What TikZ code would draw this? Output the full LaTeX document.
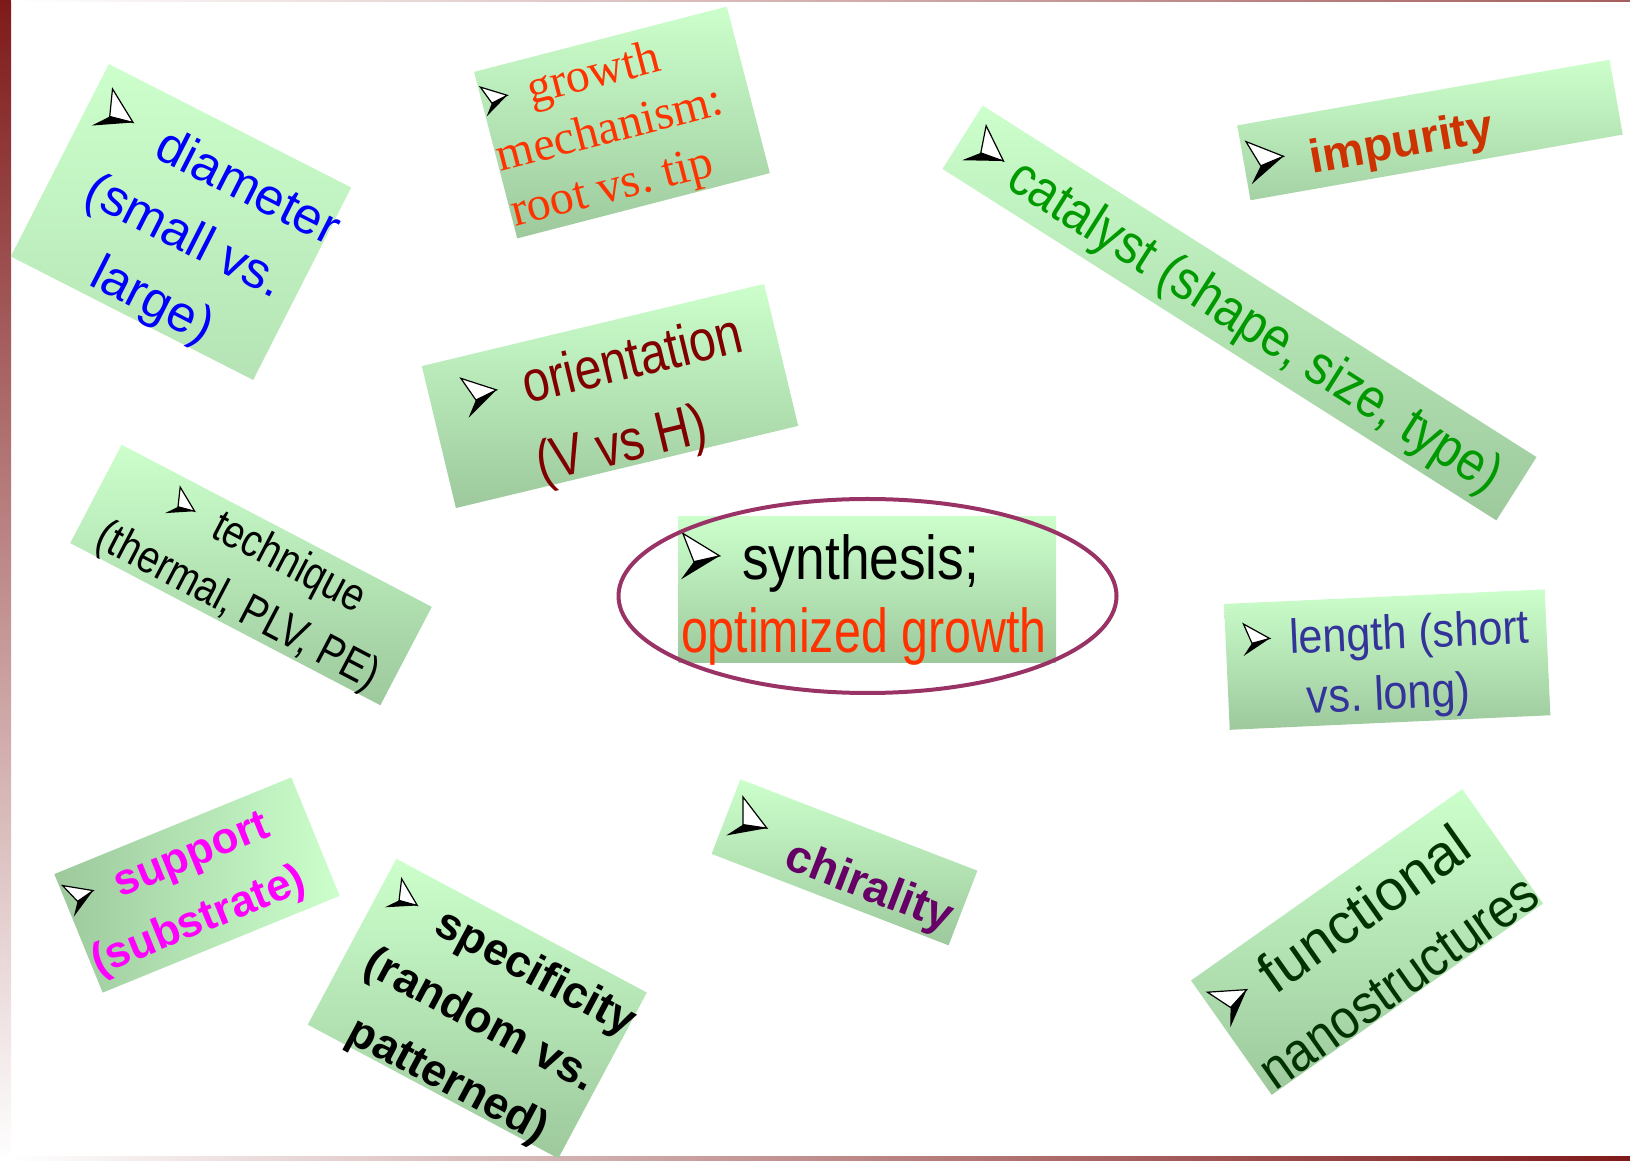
\documentclass[tikz,border=0pt]{standalone}
\usepackage{fontspec}
\usetikzlibrary{shapes.geometric}
\setmainfont{Liberation Sans}
\newfontfamily\nfA[FakeStretch=0.9]{Liberation Sans}
\newfontfamily\nfB[FakeStretch=0.83]{Liberation Sans}
\newfontfamily\nfC[FakeStretch=0.78]{Liberation Sans}
\newfontfamily\nfD[FakeStretch=0.88]{Liberation Sans}
\newfontfamily\nfS[FakeStretch=0.86]{Liberation Sans}
\newfontfamily\timesfont{Liberation Serif}
\newcommand\bularr[1]{\tikz[baseline=0pt, x=#1pt, y=#1pt]{%
  \draw[black, fill=white, line width=1.2pt, line join=miter] (0.04,1) -- (0.84,0.51) -- (0.28,0.385) -- cycle;
  \fill[black] (0.28,0.385) -- (0.84,0.51) -- (0,0) -- cycle;}}
\newcommand\fsz[2]{\fontsize{#1}{#2}\selectfont}
\definecolor{gtop}{HTML}{CCFFCC}
\definecolor{gbot}{HTML}{9DC99D}
\definecolor{gmid}{HTML}{A5D2A5}
\definecolor{gpale}{HTML}{B5E3B5}
\definecolor{ctxtred}{HTML}{FF3300}
\definecolor{cmaroon}{HTML}{800000}
\definecolor{cgreen}{HTML}{009900}
\definecolor{cimpur}{HTML}{CC3300}
\definecolor{clength}{HTML}{333399}
\definecolor{cmagenta}{HTML}{FF00FF}
\definecolor{cchiral}{HTML}{660066}
\definecolor{cdkgreen}{HTML}{003300}
\definecolor{cellipse}{HTML}{993366}
\definecolor{cbar}{HTML}{7F1A1A}
\begin{document}
\frenchspacing
\begin{tikzpicture}[x=1pt,y=1pt,
  box/.style={shade, top color=gtop, bottom color=gbot, inner sep=0pt, outer sep=0pt},
  txt/.style={inner sep=0pt, outer sep=0pt},
  ring/.style={draw=cellipse, line width=4pt, ellipse},
]
\useasboundingbox (0,0) rectangle (1630,1160);
% frame bars
\shade[top color=cbar, bottom color=white] (0,0) rectangle (11,1160);
\shade[left color=white, right color=cbar!70] (11,1158) rectangle (1630,1160);
\shade[left color=white, right color=cbar] (11,0) rectangle (1630,4);

% diameter
\begin{scope}[shift={(181,938)}, rotate=-27, transform shape]
\node[box, top color=gtop, middle color=gbot, bottom color=gpale, minimum width=272pt, minimum height=216pt] (diam) at (0,0) {};
\node[txt, align=center, text=blue, font=\fsz{51}{72}] (diamT) at (10,-10.5)
  {\bularr{42}\hspace{32pt}diameter\\(small vs.\\large)};
\end{scope}
% growth mechanism
\begin{scope}[shift={(622,1037.5)}, rotate=14.5, transform shape]
\node[box, minimum width=261pt, minimum height=172pt] (growth) at (0,0) {};
\node[txt, anchor=west, align=left, text=ctxtred, font=\timesfont\fsz{48}{57}] (growthT) at (-129.5,-5.7)
  {\bularr{30}\hspace{20pt}growth\\mechanism:\\root vs. tip};
\end{scope}
% orientation
\begin{scope}[shift={(610,764)}, rotate=13.5, transform shape]
\node[box, minimum width=352pt, minimum height=146pt] (orient) at (0,0) {};
\node[txt, align=center, text=cmaroon, font=\nfB\fsz{58}{80}] (orientT) at (0,-13)
  {\bularr{40}\hspace{26pt}orientation\\(V vs H)};
\end{scope}
% catalyst
\begin{scope}[shift={(1239.5,847)}, rotate=-32.4, transform shape]
\node[box, minimum width=656pt, minimum height=75pt] (catal) at (0,0) {};
\node[txt, anchor=west, text=cgreen, font=\nfD\fsz{55}{60}] (catalT) at (-316,-4)
  {\bularr{42}\hspace{14pt}catalyst (shape, size, type)};
\end{scope}
% impurity
\begin{scope}[shift={(1430,1030)}, rotate=10, transform shape]
\node[box, top color=gtop, middle color=gtop!70!gbot, bottom color=gmid, minimum width=378pt, minimum height=76pt] (impur) at (0,0) {};
\node[txt, anchor=west, text=cimpur, font=\bfseries\fsz{47}{56}] (impurT) at (-185,-5.5)
  {\bularr{43}\hspace{25pt}impurity};
\end{scope}
% technique
\begin{scope}[shift={(251,585)}, rotate=-27.6, transform shape]
\node[box, minimum width=350pt, minimum height=111pt] (techn) at (0,0) {};
\node[txt, align=center, text=black, font=\nfB\fsz{46}{62}] (technT) at (3,-4)
  {\bularr{30}\hspace{24pt}technique\\(thermal, PLV, PE)};
\end{scope}
% synthesis (centre)
\node[box, minimum width=378pt, minimum height=146pt] (synth) at (867,570) {};
\node[txt, anchor=west, align=left, text=black, font=\nfC\fsz{62}{73}] (synthT) at (681,561)
  {\bularr{46}\hspace{22pt}{\nfS synthesis;}\\\textcolor{ctxtred}{optimized growth}};
\node[ring, minimum width=498pt, minimum height=194pt] (ring) at (867.5,564) {};
% length
\begin{scope}[shift={(1387.2,500.4)}, rotate=2.6, transform shape]
\node[box, minimum width=321pt, minimum height=126pt] (length) at (0,0) {};
\node[txt, align=center, text=clength, font=\nfA\fsz{48}{60}] (lengthT) at (0,-7.5)
  {\bularr{32}\hspace{19pt}length (short\\vs. long)};
\end{scope}
% support
\begin{scope}[shift={(197,275)}, rotate=22.2, transform shape]
\node[box, shading angle=0, left color=gbot, right color=gtop, minimum width=256pt, minimum height=128pt] (supp) at (0,0) {};
\node[txt, anchor=west, align=left, text=cmagenta, font=\bfseries\fsz{44}{64}] (suppT) at (-126,-2.5)
  {\bularr{33}\hspace{22pt}support\\(substrate)};
\end{scope}
% specificity
\begin{scope}[shift={(477.3,151.4)}, rotate=-28.1, transform shape]
\node[box, minimum width=284pt, minimum height=188pt] (spec) at (0,0) {};
\node[txt, align=center, text=black, font=\bfseries\fsz{45}{68}] (specT) at (8,-10)
  {\bularr{33}\hspace{26pt}specificity\\(random vs.\\patterned)};
\end{scope}
% chirality
\begin{scope}[shift={(844.5,297.7)}, rotate=-21.1, transform shape]
\node[box, minimum width=254pt, minimum height=80pt] (chir) at (0,0) {};
\node[txt, anchor=west, text=cchiral, font=\bfseries\fsz{46}{56}] (chirT) at (-120,-6)
  {\raisebox{10pt}{\bularr{42}}\hspace{28pt}chirality};
\end{scope}
% functional nanostructures
\begin{scope}[shift={(1367,218)}, rotate=35.2, transform shape]
\node[box, minimum width=332pt, minimum height=140pt] (func) at (0,0) {};
\node[txt, anchor=west, align=left, text=cdkgreen, font=\nfA\fsz{55}{78}] (funcT) at (-161,-9)
  {\bularr{42}\hspace{20pt}{\rmfamily\fsz{57}{78}functional}\\nanostructures};
\end{scope}
\end{tikzpicture}
\end{document}
